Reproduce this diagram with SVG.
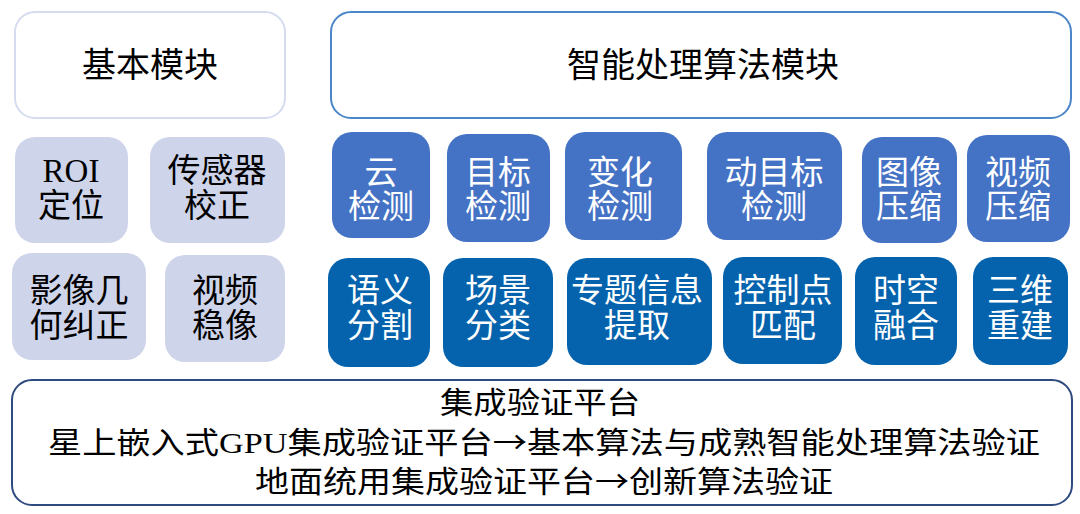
<svg xmlns="http://www.w3.org/2000/svg" width="1080" height="514" viewBox="0 0 1080 514">
<style>
text{font-family:"Liberation Serif","Noto Sans CJK SC",serif;text-anchor:middle;}
.t{font-size:33px;}
.p{font-size:30px;}
.arr{font-family:"Noto Sans CJK SC","DejaVu Sans",sans-serif;}
.lav{fill:#CED4EA;}
.b1{fill:#4472C4;}
.b2{fill:#0563AD;}
.w{fill:#FFFFFF;}
.k{fill:#000000;}
</style>
<rect width="1080" height="514" fill="#FFFFFF"/>
<g id="basic-module">
<rect x="15" y="12" width="270" height="106" rx="20" fill="#FFFFFF" stroke="#D6DCF0" stroke-width="2"/>
<text x="150" y="77" font-size="34" class="k">基本模块</text>
</g>
<g id="smart-module">
<rect x="331" y="12" width="740" height="106" rx="20" fill="#FFFFFF" stroke="#4A86C8" stroke-width="2"/>
<text x="703" y="77" font-size="34" class="k">智能处理算法模块</text>
</g>
<g id="roi">
<rect x="15" y="137" width="113" height="106" rx="20" class="lav"/>
<text class="t k" x="71" y="182">ROI</text>
<text class="t k" x="71" y="217">定位</text>
</g>
<g id="sensor">
<rect x="150" y="137" width="135" height="106" rx="20" class="lav"/>
<text class="t k" x="217" y="182">传感器</text>
<text class="t k" x="217" y="217">校正</text>
</g>
<g id="geo">
<rect x="12" y="253" width="134" height="107" rx="20" class="lav"/>
<text class="t k" x="79" y="302">影像几</text>
<text class="t k" x="79" y="337">何纠正</text>
</g>
<g id="stab">
<rect x="165" y="255" width="120" height="107" rx="20" class="lav"/>
<text class="t k" x="225" y="302">视频</text>
<text class="t k" x="225" y="337">稳像</text>
</g>
<g id="cloud">
<rect x="332" y="132" width="98" height="106" rx="20" class="b1"/>
<text class="t w" x="381" y="184">云</text>
<text class="t w" x="381" y="218">检测</text>
</g>
<g id="target">
<rect x="447" y="134" width="103" height="108" rx="20" class="b1"/>
<text class="t w" x="498" y="184">目标</text>
<text class="t w" x="498" y="218">检测</text>
</g>
<g id="change">
<rect x="565" y="132" width="117" height="108" rx="20" class="b1"/>
<text class="t w" x="620" y="184">变化</text>
<text class="t w" x="620" y="218">检测</text>
</g>
<g id="moving">
<rect x="707" y="132" width="135" height="108" rx="20" class="b1"/>
<text class="t w" x="774" y="184">动目标</text>
<text class="t w" x="774" y="218">检测</text>
</g>
<g id="imgcomp">
<rect x="862" y="137" width="95" height="106" rx="20" class="b1"/>
<text class="t w" x="909" y="184">图像</text>
<text class="t w" x="909" y="218">压缩</text>
</g>
<g id="vidcomp">
<rect x="967" y="135" width="103" height="107" rx="20" class="b1"/>
<text class="t w" x="1018" y="184">视频</text>
<text class="t w" x="1018" y="218">压缩</text>
</g>
<g id="semantic">
<rect x="328" y="258" width="102" height="109" rx="20" class="b2"/>
<text class="t w" x="380" y="302">语义</text>
<text class="t w" x="380" y="337">分割</text>
</g>
<g id="scene">
<rect x="443" y="258" width="110" height="109" rx="20" class="b2"/>
<text class="t w" x="498" y="302">场景</text>
<text class="t w" x="498" y="337">分类</text>
</g>
<g id="thematic">
<rect x="567" y="258" width="145" height="107" rx="20" class="b2"/>
<text class="t w" x="637" y="302">专题信息</text>
<text class="t w" x="637" y="337">提取</text>
</g>
<g id="gcp">
<rect x="723" y="257" width="119" height="107" rx="20" class="b2"/>
<text class="t w" x="783" y="302">控制点</text>
<text class="t w" x="783" y="337">匹配</text>
</g>
<g id="fusion">
<rect x="855" y="257" width="102" height="108" rx="20" class="b2"/>
<text class="t w" x="906" y="302">时空</text>
<text class="t w" x="906" y="337">融合</text>
</g>
<g id="recon">
<rect x="973" y="257" width="95" height="108" rx="20" class="b2"/>
<text class="t w" x="1020" y="302">三维</text>
<text class="t w" x="1020" y="337">重建</text>
</g>
<g id="platform">
<rect x="12" y="380" width="1060" height="125" rx="20" fill="#FFFFFF" stroke="#2F4A7F" stroke-width="2"/>
<text class="p k" x="540" y="413" textLength="200" lengthAdjust="spacingAndGlyphs">集成验证平台</text>
<text class="p k" x="544" y="453" textLength="992" lengthAdjust="spacingAndGlyphs">星上嵌入式GPU集成验证平台<tspan class="arr">→</tspan>基本算法与成熟智能处理算法验证</text>
<text class="p k" x="544" y="492" textLength="578" lengthAdjust="spacingAndGlyphs">地面统用集成验证平台<tspan class="arr">→</tspan>创新算法验证</text>
</g>
<g id="connectors"></g>
</svg>
